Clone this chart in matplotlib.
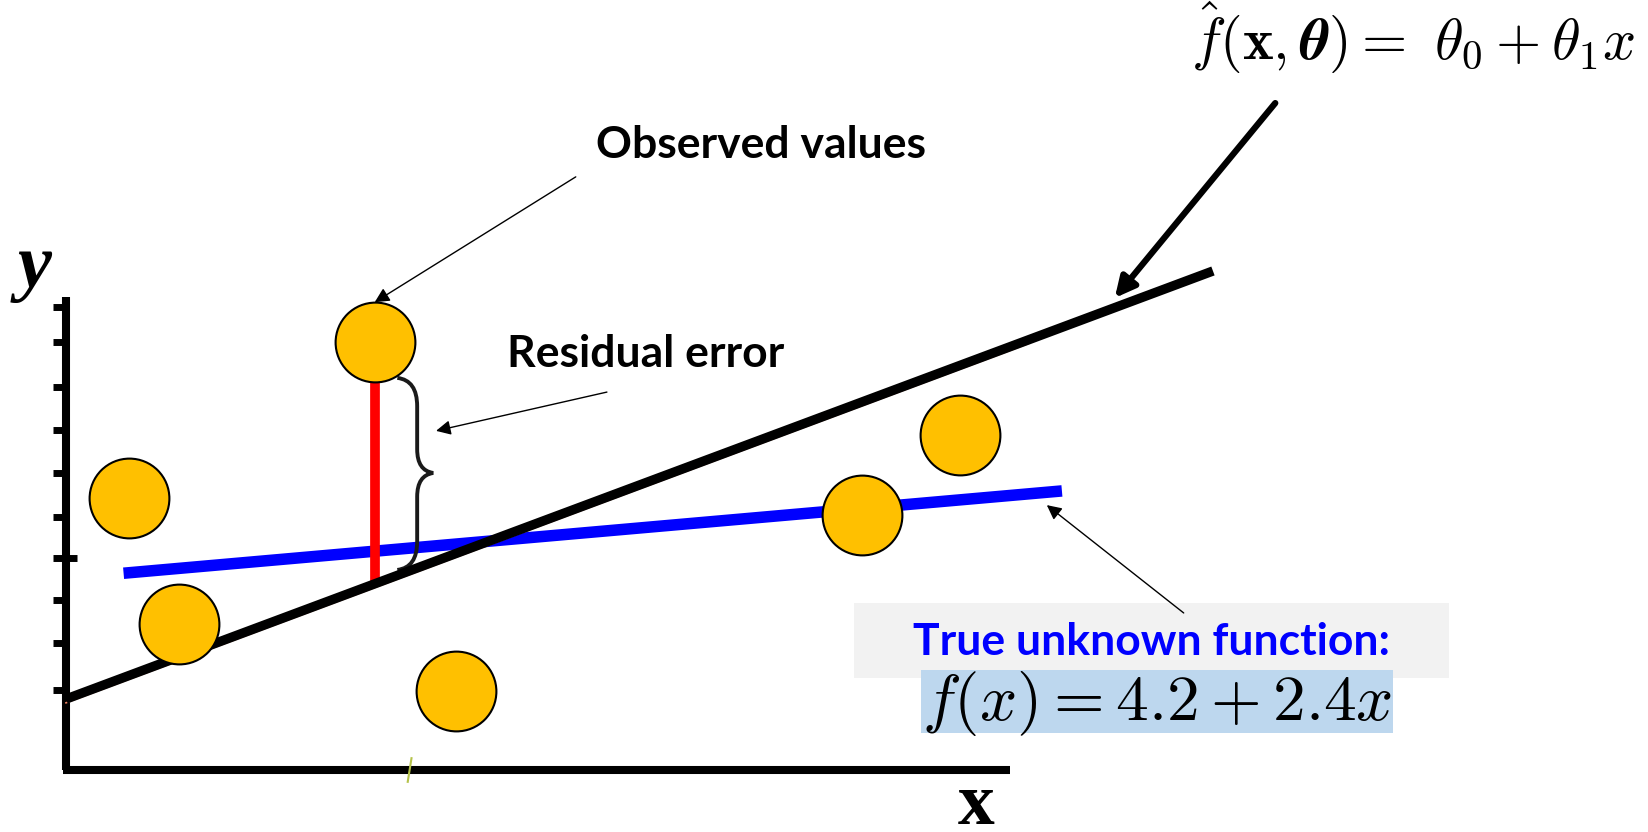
import numpy as np
import matplotlib.pyplot as plt
from matplotlib.path import Path
from matplotlib.patches import PathPatch, Rectangle

plt.rcParams['mathtext.fontset'] = 'cm'

# observed points (schematic units, axis corner = 0,0)
obs_x = [3.27, 0.67, 1.20, 4.13, 8.43, 9.47]
obs_y = [9.05, 5.75, 3.09, 1.67, 5.39, 7.08]

# fitted line  f_hat(x) = theta0 + theta1 x
fit_x = [0.0, 12.15]
fit_y = [1.50, 10.55]

# true unknown function
true_x = [0.61, 10.55]
true_y = [4.16, 5.90]

# y axis tick marks
tick_y = [9.79, 9.05, 8.10, 7.19, 6.28, 5.35, 4.48, 3.59, 2.68, 1.69]
axis_len_x = 10.0
axis_len_y = 10.0

resid_idx = 0

fig = plt.figure(figsize=(16.49, 8.32), dpi=100)
ax = fig.add_axes([0, 0, 1, 1])
ax.set_xlim(-66 / 94.4, (1649 - 66) / 94.4)
ax.set_ylim(-(832 - 770) / 47.3, 770 / 47.3)
ax.axis('off')

# axes of the sketch
ax.plot([0, 0], [0, axis_len_y], color='black', lw=5.8, solid_capstyle='butt', zorder=2)
ax.plot([-0.03, axis_len_x], [0, 0], color='black', lw=5.8, solid_capstyle='butt', zorder=2)
ax.hlines(tick_y, -0.14, 0, color='black', lw=5, zorder=2)
ax.hlines(tick_y[6], 0, 0.12, color='black', lw=5, zorder=2)
ax.plot([3.62, 3.66], [-0.25, 0.25], color='#b5c24a', lw=1.5, zorder=3)

# true function (blue)
ax.plot(true_x, true_y, color='#0000ff', lw=8.3, solid_capstyle='butt', zorder=3)

# residual (red), from observation down to fitted line
slope = (fit_y[1] - fit_y[0]) / (fit_x[1] - fit_x[0])
rx = obs_x[resid_idx]
ry = fit_y[0] + slope * (rx - fit_x[0])
ax.plot([rx, rx], [ry, obs_y[resid_idx]], color='#ff0000', lw=7, solid_capstyle='butt', zorder=3)

# fitted line (black) with a thin orange shadow
ax.plot([0, 10.2], [fit_y[0] - 0.08, fit_y[0] - 0.08 + slope * 10.2], color='#f08060', lw=1.2, zorder=3)
ax.plot(fit_x, fit_y, color='black', lw=6.8, solid_capstyle='butt', zorder=4)

# observations
ax.scatter(obs_x, obs_y, s=3300, color='#ffc000', edgecolor='black', linewidth=1.5, zorder=5)

# curly brace next to the residual
xl, xs, xt = 3.51, 3.72, 3.89
yt, ym, yb = 8.29, 6.28, 4.23
verts = [(xl, yt), (xs, yt - 0.05), (xs, yt - 0.6),
         (xs, ym + 0.5),
         (xs, ym + 0.05), (xt, ym),
         (xs, ym - 0.05), (xs, ym - 0.5),
         (xs, yb + 0.6),
         (xs, yb + 0.05), (xl, yb)]
codes = [Path.MOVETO, Path.CURVE3, Path.CURVE3,
         Path.LINETO,
         Path.CURVE3, Path.CURVE3,
         Path.CURVE3, Path.CURVE3,
         Path.LINETO,
         Path.CURVE3, Path.CURVE3]
ax.add_patch(PathPatch(Path(verts, codes), facecolor='none', edgecolor='#1a1a1a', lw=2.8, zorder=3))

# labels and annotations
bold = dict(fontfamily='Lato', fontweight='bold')
ax.text(7.36, 13.21, 'Observed values', fontsize=32, ha='center', va='center', **bold)
ax.text(6.14, 8.79, 'Residual error', fontsize=32, ha='center', va='center', **bold)

thin = dict(arrowstyle='-|>', color='black', lw=1.0, mutation_scale=22, shrinkA=0, shrinkB=0)
ax.annotate('', xy=(3.27, 9.89), xytext=(5.40, 12.54), arrowprops=thin)
ax.annotate('', xy=(3.92, 7.17), xytext=(5.73, 7.99), arrowprops=thin)
ax.annotate('', xy=(10.39, 5.60), xytext=(11.84, 3.32), arrowprops=thin)
ax.annotate('', xy=(11.11, 9.98), xytext=(12.81, 14.10),
            arrowprops=dict(arrowstyle='-|>', color='black', lw=4.5, mutation_scale=30,
                            shrinkA=0, shrinkB=0))

ax.text(14.27, 15.50, r'$\hat{f}(\mathbf{x},\boldsymbol{\theta}) =\ \theta_0 + \theta_1 x$',
        fontsize=42, ha='center', va='center')

ax.add_patch(Rectangle((8.35, 1.95), 6.30, 1.58, facecolor='#f2f2f2', edgecolor='none', zorder=1))
ax.add_patch(Rectangle((9.06, 0.78), 5.00, 1.33, facecolor='#bdd7ee', edgecolor='none', zorder=1))
ax.text(11.50, 2.71, 'True unknown function:', fontsize=32, color='#0000ff',
        ha='center', va='center', zorder=2, **bold)
ax.text(11.56, 1.40, r'$f(x) = 4.2 + 2.4x$', fontsize=47, ha='center', va='center', zorder=2)

ax.text(-0.33, 10.61, 'y', fontsize=55, fontfamily='Liberation Serif', fontweight='bold',
        fontstyle='italic', ha='center', va='center')
ax.text(9.64, -1.14, 'x', fontsize=53, fontfamily='Liberation Serif', fontweight='bold',
        ha='center', va='baseline')

fig.savefig('out.png', dpi=100)
